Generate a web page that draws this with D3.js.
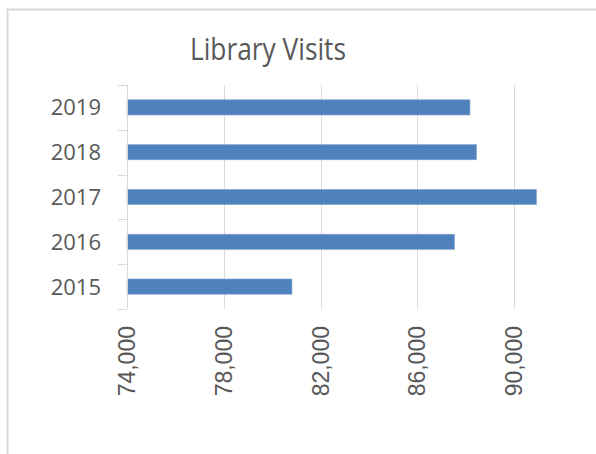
<!DOCTYPE html>
<meta charset="utf-8">
<script src="https://d3js.org/d3.v7.min.js"></script>
<style>
  body { margin: 0; background: #fff; }
  svg { display: block; }
</style>
<body>
<div id="chart"></div>
<script>
// chart data
var years = ["2015", "2016", "2017", "2018", "2019"];
var visits = [80820, 87540, 90930, 88450, 88180];
var tickValues = [74000, 78000, 82000, 86000, 90000];
var title = "Library Visits";

var W = 596, H = 454;
var plot = {left: 127, top: 85, bottom: 309};

var svg = d3.select("#chart").append("svg")
    .attr("width", W)
    .attr("height", H);

// outer frame (cropped on right and bottom)
svg.append("path")
    .attr("d", "M7.5," + H + "V9.5H" + W)
    .attr("fill", "none")
    .attr("stroke", "#d9d9d9")
    .attr("stroke-width", 2);

// title
svg.append("text")
    .attr("x", 268)
    .attr("y", 60)
    .attr("text-anchor", "middle")
    .attr("font-family", "Open Sans, sans-serif")
    .attr("font-size", 31)
    .attr("textLength", 156)
    .attr("lengthAdjust", "spacingAndGlyphs")
    .attr("fill", "#595959")
    .text(title);

var x = d3.scaleLinear()
    .domain([74000, 94000])
    .range([plot.left, plot.left + 96.75 * 5]);

var y = d3.scaleBand()
    .domain(years.slice().reverse())
    .range([plot.top, plot.bottom])
    .padding(0);

// gridlines
svg.append("g")
  .selectAll("line")
  .data(tickValues.slice(1))
  .join("line")
    .attr("x1", d => Math.round(x(d)) + 0.5)
    .attr("x2", d => Math.round(x(d)) + 0.5)
    .attr("y1", plot.top)
    .attr("y2", plot.bottom)
    .attr("stroke", "#d9d9d9")
    .attr("stroke-width", 1);

// bars
var barH = y.bandwidth() * 0.34;
svg.append("g")
  .selectAll("rect")
  .data(years)
  .join("rect")
    .attr("x", x(74000))
    .attr("y", d => y(d) + (y.bandwidth() - barH) / 2)
    .attr("width", (d, i) => x(visits[i]) - x(74000))
    .attr("height", barH)
    .attr("fill", "#4f81bd")
    .attr("stroke", "#8aa9d4")
    .attr("stroke-width", 0.6);

// y axis with category boundary ticks
var yAxis = svg.append("g");
yAxis.append("line")
    .attr("x1", plot.left + 0.5).attr("x2", plot.left + 0.5)
    .attr("y1", plot.top).attr("y2", plot.bottom)
    .attr("stroke", "#d9d9d9");
var bounds = years.map(d => y(d)).concat([plot.bottom]);
yAxis.selectAll(".tk")
  .data(bounds)
  .join("line")
    .attr("class", "tk")
    .attr("x1", plot.left - 9).attr("x2", plot.left)
    .attr("y1", d => Math.round(d) + 0.5)
    .attr("y2", d => Math.round(d) + 0.5)
    .attr("stroke", "#d9d9d9");
yAxis.selectAll("text")
  .data(years)
  .join("text")
    .attr("x", 101)
    .attr("y", d => y(d) + y.bandwidth() / 2)
    .attr("dy", "0.36em")
    .attr("text-anchor", "end")
    .attr("font-family", "Open Sans, sans-serif")
    .attr("font-size", 22)
    .attr("fill", "#595959")
    .text(d => d);

// x tick labels, rotated
var fmt = d3.format(",");
svg.append("g")
  .selectAll("text")
  .data(tickValues)
  .join("text")
    .attr("transform", d => "translate(" + x(d) + ",326) rotate(-90)")
    .attr("dy", "0.35em")
    .attr("text-anchor", "end")
    .attr("font-family", "Liberation Sans, Arial, sans-serif")
    .attr("font-size", 23)
    .attr("fill", "#595959")
    .text(d => fmt(d));
</script>
</body>
